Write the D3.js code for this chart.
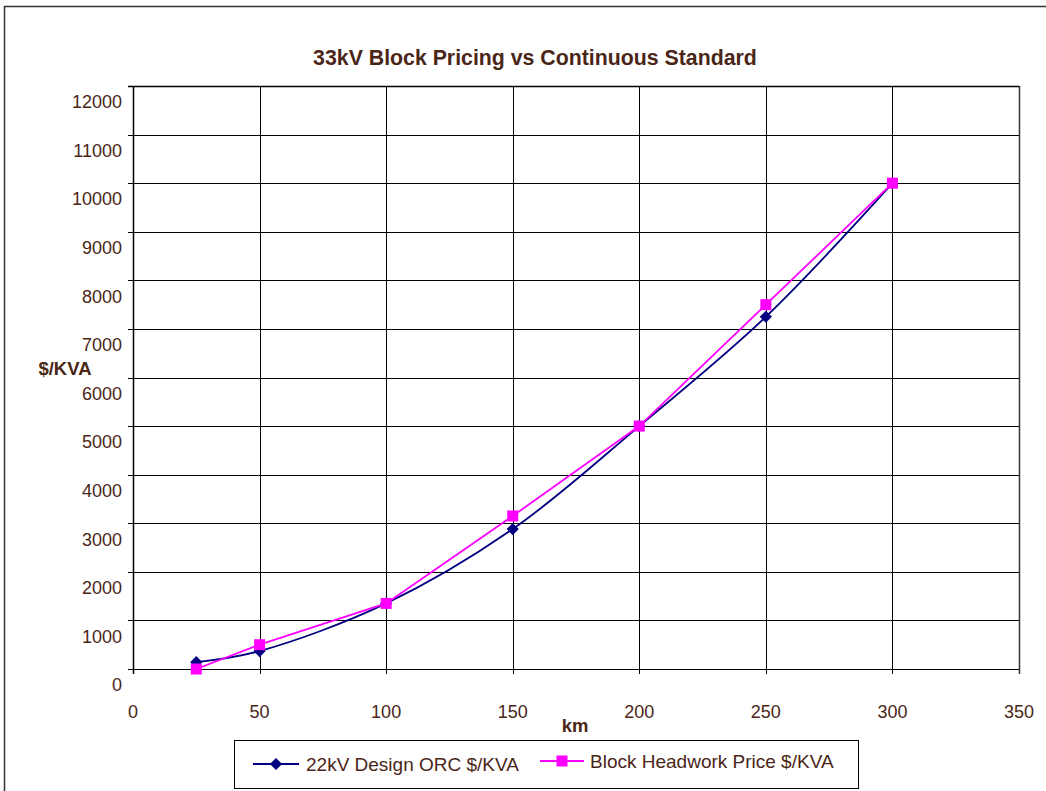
<!DOCTYPE html>
<html><head><meta charset="utf-8">
<script src="https://cdn.jsdelivr.net/npm/d3@7"></script>
<style>body{margin:0;background:#fff}svg{display:block}text{font-family:"Liberation Sans",Arial,sans-serif}</style>
</head><body>
<script>
const kmValues = [25, 50, 100, 150, 200, 250, 300];
const designORC = [140, 370, 1350, 2880, 5000, 7250, 10000];
const blockPrice = [0, 500, 1350, 3150, 5000, 7500, 10000];
const seriesNames = ["22kV Design ORC $/KVA", "Block Headwork Price $/KVA"];
const xTicks = [0, 50, 100, 150, 200, 250, 300, 350];
const yTicks = [0,1000,2000,3000,4000,5000,6000,7000,8000,9000,10000,11000,12000];

const W = 1046, H = 791;
const txt = "#4a2617";
const svg = d3.select("body").append("svg").attr("width", W).attr("height", H);

// outer chart border
svg.append("rect").attr("x", 4.5).attr("y", 6.5).attr("width", W + 10).attr("height", H + 10)
  .attr("fill", "none").attr("stroke", "#333").attr("stroke-width", 1.5);

const L = 133, R = 1019, T = 86, B = 669;
const x = d3.scaleLinear().domain([0, 350]).range([L, R]);
const y = d3.scaleLinear().domain([0, 12000]).range([B, T]);

// gridlines
const g = svg.append("g");
g.selectAll(".hg").data(yTicks).join("line")
  .attr("x1", L - 5).attr("x2", R).attr("y1", d => Math.round(y(d)) + 0.5).attr("y2", d => Math.round(y(d)) + 0.5)
  .attr("stroke", "#000").attr("stroke-width", 1);
g.selectAll(".vg").data(xTicks).join("line")
  .attr("x1", d => Math.round(x(d)) + 0.5).attr("x2", d => Math.round(x(d)) + 0.5)
  .attr("y1", T).attr("y2", B + 5)
  .attr("stroke", "#000").attr("stroke-width", 1);
svg.append("line").attr("x1", L + 0.5).attr("x2", L + 0.5).attr("y1", T).attr("y2", B + 5).attr("stroke", "#000").attr("stroke-width", 1.5);
svg.append("line").attr("x1", R + 0.5).attr("x2", R + 0.5).attr("y1", T).attr("y2", B + 5).attr("stroke", "#333").attr("stroke-width", 1.5);
svg.append("line").attr("x1", L - 5).attr("x2", R).attr("y1", T + 0.5).attr("y2", T + 0.5).attr("stroke", "#000").attr("stroke-width", 1.5);

// tick labels
svg.selectAll(".yl").data(yTicks).join("text")
  .attr("x", 122).attr("y", d => y(d) + 16).attr("dy", "0.35em")
  .attr("text-anchor", "end").attr("font-size", 18).attr("fill", txt).text(d => d);
svg.selectAll(".xl").data(xTicks).join("text")
  .attr("x", d => x(d)).attr("y", 712).attr("dy", "0.35em")
  .attr("text-anchor", "middle").attr("font-size", 18).attr("fill", txt).text(d => d);

// titles
svg.append("text").attr("x", 535).attr("y", 58).attr("dy", "0.35em").attr("text-anchor", "middle")
  .attr("font-size", 21.3).attr("font-weight", "bold").attr("fill", txt).text("33kV Block Pricing vs Continuous Standard");
svg.append("text").attr("x", 575).attr("y", 726).attr("dy", "0.35em").attr("text-anchor", "middle")
  .attr("font-size", 18.5).attr("font-weight", "bold").attr("fill", txt).text("km");
svg.append("text").attr("x", 65).attr("y", 369).attr("dy", "0.35em").attr("text-anchor", "middle")
  .attr("font-size", 18.5).attr("font-weight", "bold").attr("fill", txt).text("$/KVA");

// series
const blue = "#000080", mag = "#ff00ff";
const d1 = kmValues.map((k, i) => [k, designORC[i]]);
const d2 = kmValues.map((k, i) => [k, blockPrice[i]]);
svg.append("path").datum(d1)
  .attr("d", d3.line().x(d => x(d[0])).y(d => y(d[1])).curve(d3.curveCatmullRom.alpha(0.5)))
  .attr("fill", "none").attr("stroke", blue).attr("stroke-width", 1.8);
svg.append("path").datum(d2)
  .attr("d", d3.line().x(d => x(d[0])).y(d => y(d[1])))
  .attr("fill", "none").attr("stroke", mag).attr("stroke-width", 1.8);

const diamond = d3.symbol().type(d3.symbolDiamond2).size(95);
svg.selectAll(".m1").data(d1).join("path")
  .attr("transform", d => `translate(${x(d[0])},${y(d[1])})`).attr("d", diamond).attr("fill", blue);
svg.selectAll(".m2").data(d2).join("rect")
  .attr("x", d => x(d[0]) - 5.5).attr("y", d => y(d[1]) - 5.5).attr("width", 11).attr("height", 11).attr("fill", mag);

// legend
svg.append("rect").attr("x", 234.5).attr("y", 740.5).attr("width", 624).attr("height", 48)
  .attr("fill", "#fff").attr("stroke", "#000").attr("stroke-width", 1);
svg.append("line").attr("x1", 253).attr("x2", 299).attr("y1", 764).attr("y2", 764).attr("stroke", blue).attr("stroke-width", 1.8);
svg.append("path").attr("transform", "translate(276,764)").attr("d", diamond).attr("fill", blue);
svg.append("text").attr("x", 306).attr("y", 764).attr("dy", "0.35em").attr("font-size", 19).attr("fill", txt).text(seriesNames[0]);
svg.append("line").attr("x1", 540).attr("x2", 584).attr("y1", 761).attr("y2", 761).attr("stroke", mag).attr("stroke-width", 1.8);
svg.append("rect").attr("x", 556.5).attr("y", 755.5).attr("width", 11).attr("height", 11).attr("fill", mag);
svg.append("text").attr("x", 590).attr("y", 761).attr("dy", "0.35em").attr("font-size", 19).attr("fill", txt).text(seriesNames[1]);
</script>
</body></html>
